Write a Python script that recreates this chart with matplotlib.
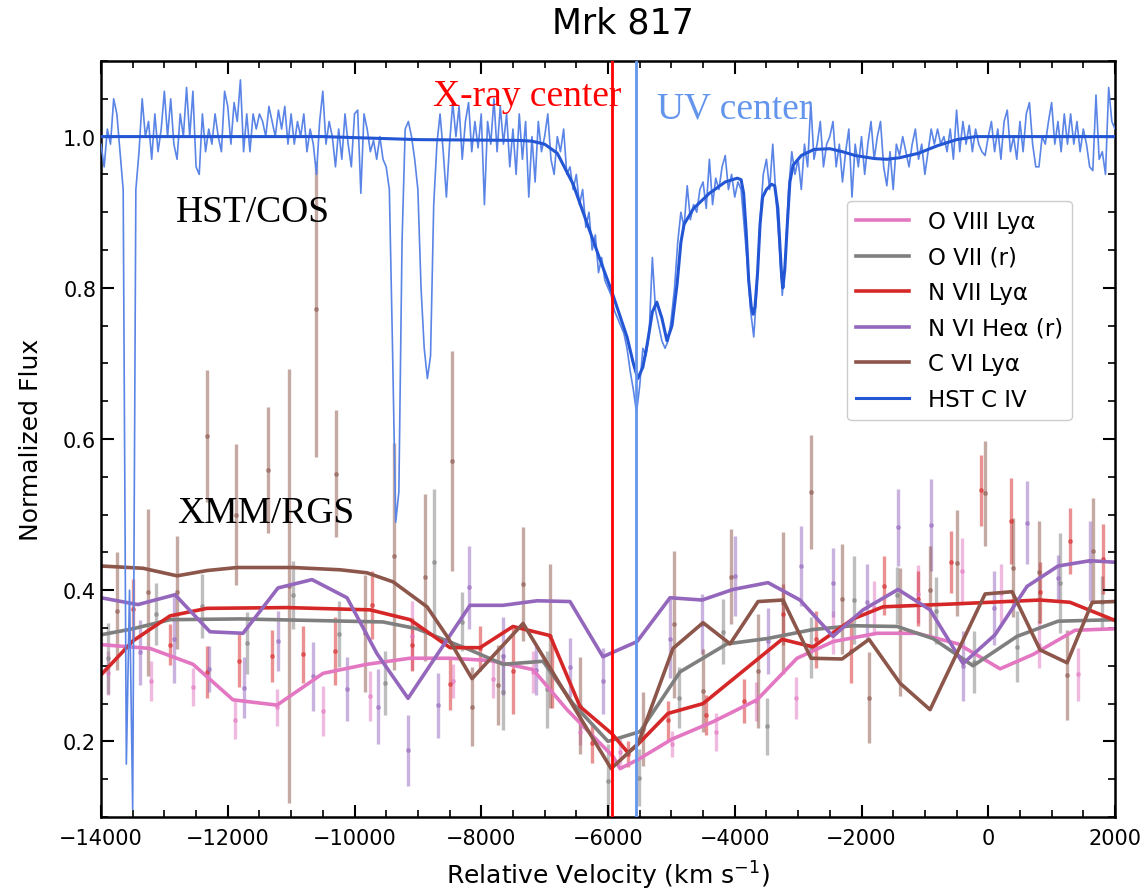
import matplotlib
matplotlib.use('Agg')
import matplotlib.pyplot as plt
from matplotlib.ticker import MultipleLocator
import numpy as np

# HST/COS C IV spectrum, sampled every 50 km/s from -14000 to 2000
hst_step = 50
hst_flux = [
    0.99, 0.96, 1.01, 0.99, 1.05, 1.03, 0.98, 0.93, 0.17, 0.40, 0.11, 0.93, 0.98, 1.05, 1.00, 1.02, 0.97, 1.03, 0.98, 1.01,
    1.06, 1.00, 1.05, 0.99, 0.97, 1.03, 1.00, 1.065, 1.00, 1.06, 0.96, 0.95, 1.03, 0.98, 1.01, 0.99, 1.03, 1.00, 0.98, 1.06,
    1.04, 0.99, 1.045, 1.02, 1.075, 0.98, 1.03, 0.98, 1.03, 1.01, 1.03, 1.02, 1.00, 1.04, 1.02, 1.00, 1.035, 1.01, 1.04, 0.99,
    1.03, 0.99, 1.02, 1.00, 1.03, 0.98, 1.01, 0.99, 0.95, 1.02, 1.06, 0.99, 1.02, 1.00, 0.96, 1.01, 0.97, 1.03, 0.99, 0.96,
    1.03, 1.035, 0.925, 1.03, 1.01, 0.98, 0.995, 0.97, 1.00, 0.97, 0.96, 0.93, 0.72, 0.49, 0.53, 0.86, 1.01, 1.02, 1.00, 0.97,
    0.93, 0.80, 0.72, 0.68, 0.71, 0.91, 0.99, 1.03, 0.98, 0.92, 0.99, 1.045, 1.00, 1.04, 0.97, 1.02, 1.045, 0.98, 1.02, 0.985,
    1.03, 0.91, 1.02, 0.99, 1.05, 0.98, 1.04, 0.99, 1.03, 0.96, 1.01, 0.95, 1.03, 0.97, 1.02, 0.92, 1.00, 0.94, 1.02, 0.98,
    1.00, 1.03, 0.97, 0.95, 1.00, 0.98, 1.01, 0.95, 0.96, 0.93, 0.95, 0.91, 0.93, 0.88, 0.90, 0.85, 0.87, 0.82, 0.84, 0.81,
    0.80, 0.79, 0.77, 0.76, 0.75, 0.74, 0.72, 0.69, 0.665, 0.635, 0.67, 0.72, 0.71, 0.74, 0.84, 0.77, 0.75, 0.73, 0.72, 0.73,
    0.76, 0.80, 0.86, 0.90, 0.88, 0.935, 0.89, 0.91, 0.90, 0.93, 0.94, 0.905, 0.97, 0.91, 0.945, 0.93, 0.96, 0.975, 0.93, 0.95,
    0.92, 0.94, 0.93, 0.88, 0.83, 0.77, 0.735, 0.80, 0.89, 0.95, 0.97, 0.93, 0.99, 0.92, 0.86, 0.79, 0.84, 0.93, 0.98, 0.95,
    0.97, 0.93, 0.99, 0.96, 1.045, 0.97, 0.99, 1.02, 0.96, 0.99, 1.00, 1.02, 0.96, 0.99, 0.94, 0.98, 1.01, 0.92, 0.99, 0.96,
    1.00, 0.95, 0.99, 1.02, 0.97, 1.00, 1.02, 0.96, 0.935, 0.98, 0.93, 0.99, 0.975, 1.00, 0.98, 0.96, 0.99, 1.01, 0.97, 0.99,
    0.95, 0.98, 1.01, 0.99, 1.01, 0.99, 1.00, 0.98, 1.01, 0.97, 1.035, 0.98, 1.02, 0.99, 1.015, 0.98, 1.01, 0.99, 0.98, 0.975,
    1.00, 1.02, 0.98, 1.01, 0.97, 1.02, 1.035, 0.98, 1.00, 0.97, 1.02, 0.98, 1.03, 1.045, 0.99, 0.96, 0.96, 1.00, 0.99, 1.02,
    1.045, 0.99, 1.02, 0.98, 1.03, 0.99, 1.03, 0.99, 1.02, 0.98, 1.01, 0.99, 0.96, 0.955, 1.055, 0.97, 0.98, 0.95, 1.065, 1.02, 1.01,
]
hst_v = -14000 + hst_step * np.arange(len(hst_flux))

# smooth C IV model
model_v = [-14000, -10500, -9000, -7400, -7200, -7000, -6800, -6550, -6300, -6120, -5940, -5800, -5700,
           -5600, -5530, -5450, -5380, -5300, -5230, -5150, -5070, -4990, -4910, -4850, -4800, -4650,
           -4400, -4150, -3960, -3900, -3860, -3820, -3780, -3740, -3710, -3680, -3640, -3600, -3560,
           -3500, -3420, -3370, -3320, -3290, -3260, -3240, -3210, -3170, -3130, -3080, -2950, -2750,
           -2500, -2300, -2100, -1800, -1600, -1400, -1100, -800, -500, -200, 0, 2000]
model_f = [1.0, 1.0, 0.996, 0.995, 0.994, 0.99, 0.978, 0.937, 0.878, 0.836, 0.795, 0.760, 0.735,
           0.700, 0.680, 0.695, 0.726, 0.768, 0.781, 0.760, 0.730, 0.750, 0.805, 0.860, 0.884, 0.905,
           0.925, 0.940, 0.945, 0.943, 0.925, 0.875, 0.810, 0.775, 0.765, 0.775, 0.820, 0.885, 0.920,
           0.930, 0.937, 0.935, 0.905, 0.860, 0.815, 0.800, 0.825, 0.885, 0.940, 0.962, 0.975, 0.983,
           0.984, 0.980, 0.975, 0.971, 0.970, 0.972, 0.978, 0.988, 0.996, 1.0, 1.0, 1.0]

# XMM/RGS model lines
o8_v = [-14000, -13227, -12548, -11917, -11223, -10497, -9803, -9124, -8493, -7862, -7183, -6647, -5920,
        -5810, -5526, -4990, -4343, -3648, -3017, -2449, -1755, -1124, -476, 187, 707, 1370, 2000]
o8_f = [0.328, 0.323, 0.302, 0.255, 0.248, 0.290, 0.302, 0.310, 0.310, 0.307, 0.295, 0.242, 0.180,
        0.164, 0.176, 0.203, 0.226, 0.255, 0.310, 0.332, 0.343, 0.343, 0.329, 0.296, 0.315, 0.347, 0.349]

o7_v = [-14000, -13495, -12911, -11806, -9550, -9013, -8603, -8177, -7656, -7025, -6552, -6000, -5494,
        -4863, -4122, -3490, -2765, -2133, -1439, -871, -240, 455, 1102, 2000]
o7_f = [0.341, 0.349, 0.361, 0.362, 0.358, 0.349, 0.335, 0.321, 0.302, 0.306, 0.250, 0.200, 0.213,
        0.292, 0.329, 0.336, 0.348, 0.353, 0.352, 0.336, 0.300, 0.339, 0.359, 0.361]

n7_v = [-14000, -13495, -12911, -12327, -11065, -9755, -9124, -8493, -8019, -7499, -6915, -6441, -5936,
        -5684, -5542, -5053, -4500, -3254, -2765, -2133, -1660, -500, 818, 1290, 2000]
n7_f = [0.288, 0.333, 0.366, 0.376, 0.377, 0.374, 0.361, 0.324, 0.324, 0.352, 0.340, 0.246, 0.210,
        0.185, 0.195, 0.237, 0.250, 0.335, 0.325, 0.362, 0.378, 0.382, 0.387, 0.384, 0.360]

n6_v = [-14000, -13416, -12832, -12280, -11759, -11207, -10670, -10118, -9645, -9155, -8177, -7656,
        -7120, -6600, -6080, -5542, -5021, -4516, -4027, -3475, -2970, -2449, -1975, -1423, -918,
        -398, 107, 612, 1102, 1606, 2000]
n6_f = [0.390, 0.381, 0.394, 0.345, 0.343, 0.403, 0.414, 0.390, 0.316, 0.257, 0.380, 0.380,
        0.386, 0.385, 0.312, 0.332, 0.390, 0.387, 0.401, 0.410, 0.387, 0.339, 0.374, 0.401, 0.374,
        0.303, 0.341, 0.405, 0.432, 0.439, 0.437]

c6_v = [-14000, -13337, -12800, -12327, -11853, -10970, -10228, -9803, -9390, -8855, -8540, -8145,
        -7340, -5950, -5526, -4974, -4500, -4074, -3632, -3238, -2796, -2307, -1881, -1392, -918,
        -50, 376, 818, 1244, 1640, 2000]
c6_f = [0.432, 0.429, 0.419, 0.426, 0.430, 0.430, 0.427, 0.423, 0.411, 0.378, 0.339, 0.283,
        0.356, 0.164, 0.197, 0.323, 0.357, 0.329, 0.385, 0.387, 0.310, 0.309, 0.335, 0.277, 0.242,
        0.395, 0.398, 0.321, 0.304, 0.384, 0.385]

# XMM/RGS data points with errors
o8_dv = [-13884, -13216, -12554, -11891, -11228, -10492, -9755, -9098, -8451, -7809, -7178, -6442,
         -5810, -4995, -4296, -3670, -3038, -2444, -1797, -1103, -419, 202, 807, 1422]
o8_dy = [0.290, 0.280, 0.272, 0.228, 0.245, 0.240, 0.260, 0.340, 0.280, 0.282, 0.292, 0.212,
         0.186, 0.197, 0.212, 0.253, 0.257, 0.344, 0.377, 0.395, 0.425, 0.396, 0.328, 0.289]
o8_de = [0.029, 0.027, 0.025, 0.025, 0.024, 0.033, 0.033, 0.046, 0.022, 0.024, 0.028, 0.017,
         0.017, 0.017, 0.025, 0.026, 0.028, 0.029, 0.035, 0.038, 0.044, 0.039, 0.031, 0.035]

o7_dv = [-13884, -13132, -12412, -11702, -10965, -10239, -9519, -8740, -8309, -7662, -6968, -5994,
         -5505, -4874, -4180, -3486, -2802, -2118, -1434, -824, -224, 449, 1133, 1790]
o7_dy = [0.310, 0.369, 0.379, 0.330, 0.394, 0.342, 0.277, 0.437, 0.358, 0.265, 0.269, 0.148,
         0.152, 0.258, 0.345, 0.220, 0.324, 0.387, 0.393, 0.373, 0.305, 0.325, 0.410, 0.384]
o7_de = [0.047, 0.041, 0.042, 0.041, 0.045, 0.044, 0.042, 0.097, 0.039, 0.050, 0.051, 0.048,
         0.038, 0.040, 0.043, 0.038, 0.040, 0.058, 0.038, 0.044, 0.041, 0.047, 0.066, 0.035]

n7_dv = [-13490, -12911, -12322, -11817, -11307, -10807, -10308, -9729, -9098, -8493, -8020, -7494,
         -6889, -6258, -5679, -5048, -4453, -3848, -3244, -2718, -2171, -1639, -1103, -587, -114,
         360, 817, 1291, 1806]
n7_dy = [0.375, 0.328, 0.292, 0.307, 0.313, 0.315, 0.320, 0.380, 0.328, 0.276, 0.323, 0.293,
         0.290, 0.198, 0.183, 0.228, 0.235, 0.253, 0.368, 0.335, 0.320, 0.406, 0.389, 0.437, 0.532,
         0.492, 0.397, 0.465, 0.441]
n7_de = [0.040, 0.027, 0.034, 0.035, 0.035, 0.038, 0.045, 0.045, 0.035, 0.034, 0.030, 0.057,
         0.046, 0.026, 0.017, 0.026, 0.027, 0.029, 0.040, 0.038, 0.043, 0.039, 0.036, 0.041, 0.047,
         0.057, 0.040, 0.044, 0.046]

n6_dv = [-13385, -12848, -12291, -11738, -11202, -10650, -10113, -9624, -9150, -8677, -8193, -7651,
         -7136, -6599, -6073, -5021, -4522, -3996, -3470, -2954, -2444, -1918, -1418, -908, -403,
         96, 607, 1107, 1606]
n6_dy = [0.318, 0.336, 0.296, 0.271, 0.333, 0.286, 0.269, 0.246, 0.188, 0.248, 0.404, 0.313,
         0.294, 0.298, 0.280, 0.336, 0.355, 0.419, 0.333, 0.432, 0.410, 0.385, 0.483, 0.486, 0.300,
         0.377, 0.489, 0.416, 0.439]
n6_de = [0.043, 0.059, 0.030, 0.040, 0.040, 0.046, 0.042, 0.050, 0.047, 0.043, 0.055, 0.051,
         0.032, 0.039, 0.044, 0.052, 0.040, 0.053, 0.044, 0.053, 0.046, 0.050, 0.051, 0.061, 0.046,
         0.049, 0.055, 0.030, 0.053]

c6_dv = [-13753, -13264, -12806, -12333, -11870, -11360, -11034, -10607, -10292, -9834, -9377, -8887,
         -8467, -8151, -7730, -7336, -6915, -6442, -5453, -4958, -4506, -4064, -3628, -3233, -2802,
         -2313, -1876, -1392, -919, -487, -51, 386, 807, 1238, 1648]
c6_dy = [0.372, 0.397, 0.397, 0.604, 0.500, 0.559, 0.405, 0.772, 0.554, 0.343, 0.445, 0.417,
         0.571, 0.246, 0.275, 0.408, 0.339, 0.247, 0.216, 0.355, 0.267, 0.418, 0.293, 0.383, 0.530,
         0.388, 0.258, 0.345, 0.400, 0.436, 0.528, 0.430, 0.424, 0.288, 0.452]
c6_de = [0.078, 0.111, 0.075, 0.087, 0.093, 0.083, 0.287, 0.196, 0.084, 0.077, 0.150, 0.110,
         0.145, 0.052, 0.053, 0.075, 0.095, 0.064, 0.049, 0.097, 0.055, 0.063, 0.075, 0.094, 0.075,
         0.073, 0.060, 0.085, 0.059, 0.070, 0.070, 0.066, 0.067, 0.060, 0.070]

xray_center = -5940
uv_center = -5560

series = [
    ('O VIII Ly\u03b1', '#e377c2', o8_v, o8_f, o8_dv, o8_dy, o8_de),
    ('O VII (r)', '#7f7f7f', o7_v, o7_f, o7_dv, o7_dy, o7_de),
    ('N VII Ly\u03b1', '#d62728', n7_v, n7_f, n7_dv, n7_dy, n7_de),
    ('N VI He\u03b1 (r)', '#9467bd', n6_v, n6_f, n6_dv, n6_dy, n6_de),
    ('C VI Ly\u03b1', '#8c564b', c6_v, c6_f, c6_dv, c6_dy, c6_de),
]

fig = plt.figure(figsize=(11.45, 8.95), dpi=100)
ax = fig.add_axes([101/1145, 1 - 818/895, 1014/1145, 756/895])

handles = []
for name, col, mv, mf, dv, dy, de in series:
    ax.errorbar(dv, dy, yerr=de, fmt='o', ms=2.5, color=col, alpha=0.5,
                elinewidth=2.4, capsize=0, zorder=1)
for name, col, mv, mf, dv, dy, de in series:
    h, = ax.plot(mv, mf, color=col, lw=2.6, label=name, zorder=2)
    handles.append(h)

ax.plot(hst_v, hst_flux, color='#5a85e6', lw=1.2, zorder=3)
h, = ax.plot(model_v, model_f, color='#2356d4', lw=2.2, label='HST C IV', zorder=4)
handles.append(h)

ax.axvline(xray_center, color='red', lw=2, zorder=5)
ax.axvline(uv_center, color='#6495ed', lw=2, zorder=5)

serif = ['Liberation Serif', 'DejaVu Serif']
ax.text(-8760, 1.042, 'X-ray center', color='red', fontsize=27, family=serif)
ax.text(-5226, 1.025, 'UV center', color='#6495ed', fontsize=27, family=serif)
ax.text(-12817, 0.889, 'HST/COS', color='black', fontsize=27, family=serif)
ax.text(-12801, 0.490, 'XMM/RGS', color='black', fontsize=27, family=serif)

ax.set_xlim(-14000, 2000)
ax.set_ylim(0.1, 1.1)
ax.set_xticks(range(-14000, 2001, 2000))
ax.set_yticks([0.2, 0.4, 0.6, 0.8, 1.0])
ax.xaxis.set_minor_locator(MultipleLocator(500))
ax.yaxis.set_minor_locator(MultipleLocator(0.05))
ax.tick_params(which='both', direction='in', top=True, right=True)
ax.tick_params(which='major', length=9, width=1.5)
ax.tick_params(which='minor', length=5, width=1.2)
ax.tick_params(axis='x', pad=8, labelsize=15)
ax.tick_params(axis='y', labelsize=15)
for sp in ax.spines.values():
    sp.set_linewidth(1.8)

ax.set_xlabel('Relative Velocity (km s$^{-1}$)', fontsize=18, labelpad=8)
ax.set_ylabel('Normalized Flux', fontsize=18, labelpad=14)
fig.text(623/1145, 1 - 24/895, 'Mrk 817', fontsize=25, ha='center', va='center')

ax.legend(handles=handles, loc='upper left', bbox_to_anchor=(0.736, 0.815),
          borderaxespad=0, fontsize=16.5, handlelength=2.3, labelspacing=0.55,
          framealpha=1, edgecolor='#cccccc')

fig.savefig('out.png', dpi=100)
